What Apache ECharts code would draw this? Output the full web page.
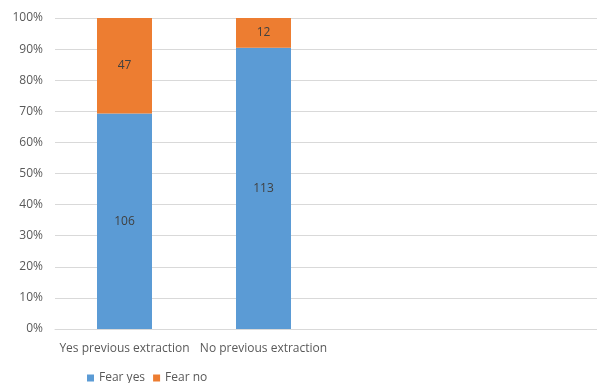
<!DOCTYPE html>
<html><head><meta charset="utf-8">
<script src="https://cdn.jsdelivr.net/npm/echarts@6/dist/echarts.min.js"></script>
<style>html,body{margin:0;padding:0;background:#fff;overflow:hidden;width:597px;height:383px}#c{width:612px;height:383px}</style>
</head><body><div id="c"></div>
<script>
const categories = ["Yes previous extraction", "No previous extraction", "", ""];
const fearYes = [106, 113, null, null];
const fearNo = [47, 12, null, null];
const seriesNames = ["Fear yes", "Fear no"];

const totals = fearYes.map((v, i) => (v == null ? null : v + fearNo[i]));
const pct = (arr) => arr.map((v, i) => (v == null ? null : { value: v / totals[i] * 100, raw: v }));

const font = "Open Sans";
const chart = echarts.init(document.getElementById('c'), null, { renderer: 'canvas' });
chart.setOption({
  animation: false,
  textStyle: { fontFamily: font, color: '#595959' },
  grid: { left: 55, top: 18, right: 1, height: 311, containLabel: false },
  legend: {
    top: 367, left: 82, itemWidth: 7, itemHeight: 7, itemGap: 8, icon: 'rect',
    textStyle: { fontFamily: font, fontSize: 12, color: '#595959' },
    data: seriesNames
  },
  xAxis: {
    type: 'category', data: categories,
    axisLine: { show: true, lineStyle: { color: '#d9d9d9' } },
    axisTick: { show: false },
    axisLabel: { fontFamily: font, fontSize: 12, color: '#595959', margin: 14, interval: 0 }
  },
  yAxis: {
    type: 'value', min: 0, max: 100, interval: 10,
    axisLabel: { formatter: '{value}%', fontFamily: font, fontSize: 12, color: '#595959', margin: 12 },
    splitLine: { lineStyle: { color: '#d9d9d9' } },
    axisLine: { show: false }, axisTick: { show: false }
  },
  series: [
    {
      name: seriesNames[0], type: 'bar', stack: 's', barWidth: 55, data: pct(fearYes),
      itemStyle: { color: '#5b9bd5' },
      label: { show: true, position: 'inside', formatter: p => p.data.raw, fontFamily: font, fontSize: 12, color: '#404040' }
    },
    {
      name: seriesNames[1], type: 'bar', stack: 's', barWidth: 55, data: pct(fearNo),
      itemStyle: { color: '#ed7d31' },
      label: { show: true, position: 'inside', formatter: p => p.data.raw, fontFamily: font, fontSize: 12, color: '#404040' }
    }
  ]
});
</script></body></html>
